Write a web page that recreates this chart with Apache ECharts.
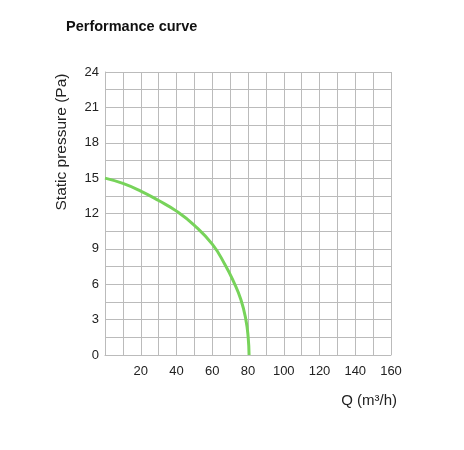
<!DOCTYPE html>
<html>
<head>
<meta charset="utf-8">
<script src="https://cdn.jsdelivr.net/npm/echarts@6/dist/echarts.min.js"></script>
<style>
  html, body { margin: 0; padding: 0; background: #fff; }
  #chart { width: 464px; height: 450px; }
</style>
</head>
<body>
<div id="chart"></div>
<script>
// flow (m³/h) and static pressure (Pa)
const flowQ = [0, 10, 20, 30, 40, 50, 60, 67, 72, 76, 78.8, 80.1, 80.6];
const pressure = [15, 14.55, 13.9, 13.1, 12.2, 11.0, 9.4, 7.7, 6.2, 4.7, 3.0, 1.5, 0];
const xLabels = [20, 40, 60, 80, 100, 120, 140, 160];

const chart = echarts.init(document.getElementById('chart'));
const font = 'Liberation Sans, Arial, sans-serif';

chart.setOption({
    animation: false,
    title: {
        text: 'Performance curve', left: 61, top: 14,
        textStyle: { fontFamily: font, fontSize: 14.5, fontWeight: 'bold', color: '#111' }
    },
    graphic: [{
        type: 'text', x: 62, y: 142, rotation: Math.PI / 2,
        style: {
            text: 'Static pressure (Pa)', fontFamily: font, fontSize: 15.5, fill: '#222',
            align: 'center', verticalAlign: 'middle'
        }
    }],
    grid: { left: 105, right: 73, top: 72, bottom: 95 },
    xAxis: {
        type: 'value', min: 0, max: 160, interval: 10,
        name: 'Q (m³/h)', nameLocation: 'end', nameGap: 6,
        nameTextStyle: { fontFamily: font, fontSize: 15, color: '#222', align: 'right', verticalAlign: 'top', padding: [38, 0, 0, 0] },
        axisLine: { lineStyle: { color: '#bbb', width: 1 } },
        axisTick: { show: false },
        axisLabel: {
            fontFamily: font, fontSize: 13, color: '#222', margin: 10,
            formatter: v => xLabels.includes(v) ? String(v) : ''
        },
        splitLine: { lineStyle: { color: '#bbb', width: 1 } }
    },
    yAxis: {
        type: 'value', min: 0, max: 24, interval: 1.5,
        axisLine: { show: true, lineStyle: { color: '#bbb', width: 1 } },
        axisTick: { show: false },
        axisLabel: {
            fontFamily: font, fontSize: 13, color: '#222', margin: 6,
            formatter: v => (v % 3 === 0 ? String(v) : '')
        },
        splitLine: { lineStyle: { color: '#bbb', width: 1 } }
    },
    series: [{
        type: 'line', data: flowQ.map((q, i) => [q, pressure[i]]),
        smooth: true, symbol: 'none',
        lineStyle: { color: '#77d35a', width: 3 }
    }]
});
</script>
</body>
</html>
